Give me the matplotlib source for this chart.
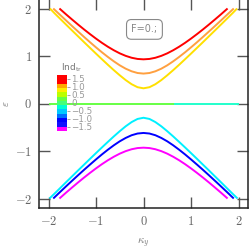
import matplotlib
matplotlib.use("Agg")
import matplotlib.pyplot as plt
import numpy as np
from matplotlib.colors import ListedColormap, Normalize
from matplotlib.cm import ScalarMappable

plt.rcParams['mathtext.fontset'] = 'cm'

# ---- data ----
k_red = [-1.77, -1.625, -1.5, -1.375, -1.25, -1.125, -1.0, -0.875, -0.75, -0.625, -0.5, -0.375, -0.25, -0.125, 0.0,
         0.125, 0.25, 0.375, 0.5, 0.625, 0.75, 0.875, 1.0, 1.125, 1.25, 1.375, 1.5, 1.625, 1.77]
e_red = [2.0, 1.872, 1.765, 1.660, 1.558, 1.460, 1.366, 1.277, 1.195, 1.121, 1.056, 1.003, 0.963, 0.938, 0.93,
         0.938, 0.963, 1.003, 1.056, 1.121, 1.195, 1.277, 1.366, 1.460, 1.558, 1.660, 1.765, 1.872, 2.0]

k_orange = [-1.9, -1.75, -1.625, -1.5, -1.375, -1.25, -1.125, -1.0, -0.875, -0.75, -0.625, -0.5, -0.375, -0.25, -0.125, 0.0,
            0.125, 0.25, 0.375, 0.5, 0.625, 0.75, 0.875, 1.0, 1.125, 1.25, 1.375, 1.5, 1.625, 1.75, 1.9]
e_orange = [2.0, 1.860, 1.743, 1.627, 1.513, 1.400, 1.289, 1.182, 1.078, 0.980, 0.888, 0.804, 0.733, 0.678, 0.642, 0.63,
            0.642, 0.678, 0.733, 0.804, 0.888, 0.980, 1.078, 1.182, 1.289, 1.400, 1.513, 1.627, 1.743, 1.860, 2.0]

k_yellow = [-1.97, -1.875, -1.75, -1.625, -1.5, -1.375, -1.25, -1.125, -1.0, -0.875, -0.75, -0.625, -0.5, -0.375, -0.25, -0.125, 0.0,
            0.125, 0.25, 0.375, 0.5, 0.625, 0.75, 0.875, 1.0, 1.125, 1.25, 1.375, 1.5, 1.625, 1.75, 1.875, 1.97]
e_yellow = [2.0, 1.902, 1.779, 1.656, 1.534, 1.412, 1.290, 1.170, 1.050, 0.932, 0.815, 0.702, 0.594, 0.493, 0.406, 0.343, 0.32,
            0.343, 0.406, 0.493, 0.594, 0.702, 0.815, 0.932, 1.050, 1.170, 1.290, 1.412, 1.534, 1.656, 1.779, 1.902, 2.0]

k_cyan = [-1.98, -1.875, -1.75, -1.625, -1.5, -1.375, -1.25, -1.125, -1.0, -0.875, -0.75, -0.625, -0.5, -0.375, -0.25, -0.125, 0.0,
          0.125, 0.25, 0.375, 0.5, 0.625, 0.75, 0.875, 1.0, 1.125, 1.25, 1.375, 1.5, 1.625, 1.75, 1.875, 1.98]
e_cyan = [-2.0, -1.899, -1.776, -1.652, -1.530, -1.407, -1.286, -1.164, -1.044, -0.925, -0.808, -0.693, -0.583, -0.480, -0.391, -0.325, -0.30,
          -0.325, -0.391, -0.480, -0.583, -0.693, -0.808, -0.925, -1.044, -1.164, -1.286, -1.407, -1.530, -1.652, -1.776, -1.899, -2.0]

k_blue = [-1.9, -1.75, -1.625, -1.5, -1.375, -1.25, -1.125, -1.0, -0.875, -0.75, -0.625, -0.5, -0.375, -0.25, -0.125, 0.0,
          0.125, 0.25, 0.375, 0.5, 0.625, 0.75, 0.875, 1.0, 1.125, 1.25, 1.375, 1.5, 1.625, 1.75, 1.9]
e_blue = [-2.0, -1.857, -1.739, -1.623, -1.508, -1.395, -1.285, -1.177, -1.072, -0.973, -0.880, -0.796, -0.725, -0.668, -0.632, -0.62,
          -0.632, -0.668, -0.725, -0.796, -0.880, -0.973, -1.072, -1.177, -1.285, -1.395, -1.508, -1.623, -1.739, -1.857, -2.0]

k_magenta = [-1.77, -1.625, -1.5, -1.375, -1.25, -1.125, -1.0, -0.875, -0.75, -0.625, -0.5, -0.375, -0.25, -0.125, 0.0,
             0.125, 0.25, 0.375, 0.5, 0.625, 0.75, 0.875, 1.0, 1.125, 1.25, 1.375, 1.5, 1.625, 1.77]
e_magenta = [-2.0, -1.872, -1.765, -1.660, -1.558, -1.460, -1.366, -1.277, -1.195, -1.121, -1.056, -1.003, -0.963, -0.938, -0.93,
             -0.938, -0.963, -1.003, -1.056, -1.121, -1.195, -1.277, -1.366, -1.460, -1.558, -1.660, -1.765, -1.872, -2.0]

k_green = [-2.0, 0.65]
e_green = [0.0, 0.0]
k_aqua = [0.65, 2.0]
e_aqua = [0.0, 0.0]

ind_ticks = [1.5, 1.0, 0.5, 0.0, -0.5, -1.0, -1.5]
ind_tick_labels = ['1.5', '1.0', '0.5', '0', '\u22120.5', '\u22121.0', '\u22121.5']
xticks = [-2, -1, 0, 1, 2]
yticks = [-2, -1, 0, 1, 2]

bands = [
    (k_red, e_red, '#ff0000'),
    (k_orange, e_orange, '#ffa040'),
    (k_yellow, e_yellow, '#ffe000'),
    (k_green, e_green, '#66ff44'),
    (k_aqua, e_aqua, '#22ffcc'),
    (k_cyan, e_cyan, '#00f0ff'),
    (k_blue, e_blue, '#0000ff'),
    (k_magenta, e_magenta, '#ff00ff'),
]

fig = plt.figure(figsize=(2.5, 2.5), dpi=100)
ax = fig.add_axes([39/250, 42/250, 209/250, 209/250])

for k, e, c in bands:
    ax.plot(k, e, color=c, lw=1.4, solid_capstyle='butt')

ax.set_xlim(-2.2, 2.2)
ax.set_ylim(-2.2, 2.2)
ax.set_xticks(xticks)
ax.set_yticks(yticks)
ax.set_xticklabels([r'$%d$' % v for v in xticks])
ax.set_yticklabels([r'$%d$' % v for v in yticks])
ax.tick_params(direction='in', length=8, width=1.0, color='#555555', labelcolor='#666666',
               labelsize=9, top=True, right=True, pad=5)
for s in ax.spines.values():
    s.set_color('#222222')
    s.set_linewidth(1.1)

ax.set_xlabel(r'$\kappa_y$', color='#777777', fontsize=8, labelpad=6)
ax.set_ylabel(r'$\varepsilon$', color='#777777', fontsize=8, rotation=90)
ax.yaxis.set_label_coords(-0.135, 0.5)

ax.text(0.02, 1.56, 'F=0.;', color='#888888', fontsize=7, ha='center', va='center',
        bbox=dict(boxstyle='round,pad=0.5', fc='white', ec='#888888', lw=0.8))

# colorbar
cb_colors = ['#ff00ff', '#1010ff', '#0000ff', '#0070ff', '#00c8ff', '#00ffd0',
             '#44ff77', '#66ff44', '#bbff00', '#ffee00', '#ffaa00', '#ff0000', '#ff0000']
cmap = ListedColormap(cb_colors)
norm = Normalize(vmin=-1.75, vmax=1.75)
cax = fig.add_axes([57/250, 119/250, 10/250, 56/250])
cb = fig.colorbar(ScalarMappable(norm=norm, cmap=cmap), cax=cax, ticks=ind_ticks)
cb.set_ticklabels(ind_tick_labels)
cb.outline.set_visible(False)
cax.tick_params(labelsize=6.3, colors='#999999', length=2, width=0.6, pad=1)
cax.set_title(r'Ind$_{\mathregular{tr}}$', fontsize=6.5, color='#777777', pad=3, loc='left', x=0.4)

fig.savefig('out.png', dpi=100)
